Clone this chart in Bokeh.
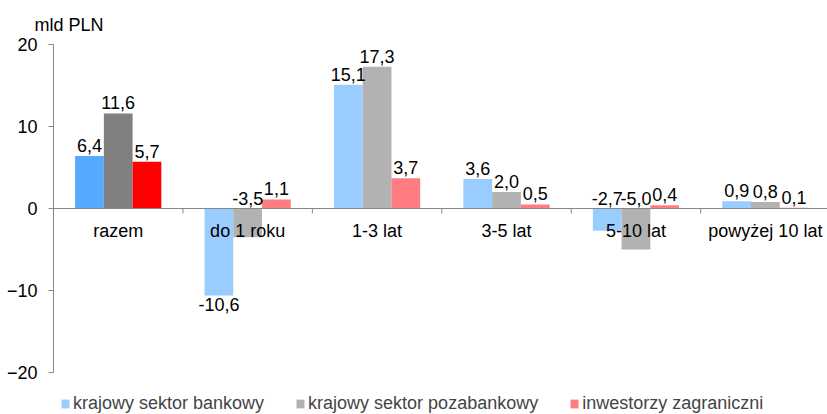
from bokeh.plotting import figure
from bokeh.models import Range1d, Span, Legend, LegendItem, ColumnDataSource, FixedTicker
from bokeh.core.properties import value
from bokeh.embed import file_html
from bokeh.resources import INLINE

categories = ["razem", "do 1 roku", "1-3 lat", "3-5 lat", "5-10 lat", "powyżej 10 lat"]
series_names = ["krajowy sektor bankowy", "krajowy sektor pozabankowy", "inwestorzy zagraniczni"]
bankowy = [6.4, -10.6, 15.1, 3.6, -2.7, 0.9]
pozabankowy = [11.6, -3.5, 17.3, 2.0, -5.0, 0.8]
zagraniczni = [5.7, 1.1, 3.7, 0.5, 0.4, 0.1]
y_ticks = [-20, -10, 0, 10, 20]
unit_label = "mld PLN"

colors_total = ["#55AAFF", "#808080", "#FF0000"]
colors_other = ["#99CCFF", "#B2B2B2", "#FF7C80"]

FONT = "Liberation Sans"
FS = "18px"
AXIS_COLOR = "#868686"
BW = 0.222

# frame extends below the -20 tick so that the legend can sit inside it
p = figure(width=827, height=414, x_range=Range1d(0, 5.98), y_range=Range1d(-25.12, 20),
           output_backend="svg", toolbar_location=None,
           min_border_left=53, min_border_right=0, min_border_top=44, min_border_bottom=0)
p.outline_line_color = None
p.xgrid.visible = False
p.ygrid.visible = False
p.xaxis.visible = False

p.title.text = unit_label
p.title.align = "left"
p.title.offset = -19
p.title.text_font = FONT
p.title.text_font_size = FS
p.title.text_font_style = "normal"
p.title.text_color = "black"
p.title.standoff = 20

ya = p.yaxis[0]
ya.ticker = FixedTicker(ticks=y_ticks)
ya.bounds = (y_ticks[0], y_ticks[-1])
ya.major_label_text_font = FONT
ya.major_label_text_font_size = FS
ya.major_label_text_color = "black"
ya.axis_line_color = AXIS_COLOR
ya.major_tick_line_color = AXIS_COLOR
ya.major_tick_out = 5
ya.major_tick_in = 0
ya.minor_tick_line_color = None
ya.major_label_standoff = 11

p.add_layout(Span(location=0, dimension="width", line_color=AXIS_COLOR, line_width=1))

bounds = list(range(1, len(categories) + 1))
p.segment(x0=bounds, y0=[0] * len(bounds), x1=bounds, y1=[-0.6] * len(bounds),
          line_color=AXIS_COLOR, line_width=1)

def fmt(v):
    return f"{v:.1f}".replace(".", ",")

series = [bankowy, pozabankowy, zagraniczni]
items = []
above = dict(x=[], y=[], t=[])
below = dict(x=[], y=[], t=[])
for s, vals in enumerate(series):
    k = s - 1
    xs = [i + 0.5 + k * BW for i in range(len(categories))]
    cols = [colors_total[s] if i == 0 else colors_other[s] for i in range(len(categories))]
    src = ColumnDataSource(dict(x=xs, top=vals, bottom=[0] * len(vals), color=cols))
    r = p.vbar(x="x", top="top", bottom="bottom", width=BW, fill_color="color",
               line_color=None, source=src)
    items.append(LegendItem(label=series_names[s], renderers=[r], index=1))
    for x, v in zip(xs, vals):
        if v < -6:
            below["x"].append(x); below["y"].append(v); below["t"].append(fmt(v))
        else:
            above["x"].append(x); above["y"].append(max(v, 0)); above["t"].append(fmt(v))

p.text(x="x", y="y", text="t", source=ColumnDataSource(above), text_align="center",
       text_baseline="bottom", y_offset=-4, text_font=value(FONT),
       text_font_size=value(FS), text_color="black")
p.text(x="x", y="y", text="t", source=ColumnDataSource(below), text_align="center",
       text_baseline="top", y_offset=3, text_font=value(FONT),
       text_font_size=value(FS), text_color="black")

cat_src = ColumnDataSource(dict(x=[i + 0.5 for i in range(len(categories))],
                                y=[-2.75] * len(categories), t=categories))
p.text(x="x", y="y", text="t", source=cat_src, text_align="center",
       text_baseline="middle", text_font=value(FONT), text_font_size=value(FS),
       text_color="black")

legend = Legend(items=items, location=(7, 0), orientation="horizontal", padding=0,
                margin=0, spacing=31, glyph_width=10, glyph_height=11, label_standoff=3,
                label_text_font=FONT, label_text_font_size=FS, border_line_color=None,
                background_fill_alpha=0)
p.add_layout(legend, "center")

open("out.html", "w").write(file_html(p, INLINE))
